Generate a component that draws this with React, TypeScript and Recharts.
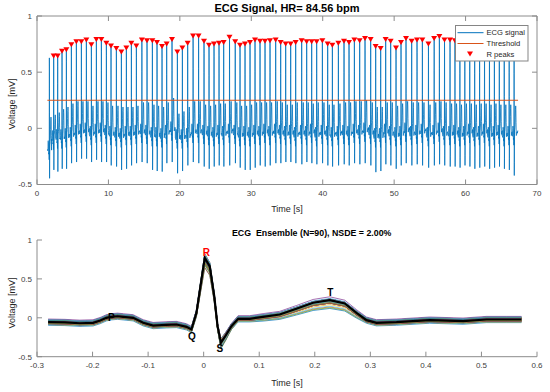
import React from "react";
import { ComposedChart, LineChart, Line, Scatter, XAxis, YAxis, ReferenceDot } from "recharts";

const FONT = '"Liberation Sans", Arial, Helvetica, sans-serif';
const AXIS = "#8c8c8c";
const TICK = "#404040";

// R peak times [s] and heights [mV] (last ones sit under the legend)
const rTimes = [
  1.73, 2.33, 2.89, 3.5, 4.11, 4.81, 5.51, 6.21, 6.91, 7.61, 8.31, 9.01, 9.71, 10.36, 11.11, 11.81,
  12.51, 13.21, 13.91, 14.68, 15.4, 16.15, 16.8, 17.5, 18.15, 18.9, 19.65, 20.35, 21.09, 21.85, 22.62,
  23.38, 24.08, 24.78, 25.48, 26.13, 26.95, 27.75, 28.42, 29.12, 29.82, 30.52, 31.22, 31.92, 32.62,
  33.41, 34.11, 34.81, 35.51, 36.21, 37.05, 37.75, 38.45, 39.15, 39.95, 40.69, 41.35, 42.19, 42.98,
  43.68, 44.43, 45.17, 45.92, 46.71, 47.41, 48.11, 48.81, 49.51, 50.26, 50.96, 51.66, 52.45, 53.2,
  53.95, 54.8, 55.6, 56.33, 57.05, 57.82, 58.51, 59.2, 59.89, 60.58, 61.27, 61.96, 62.65, 63.34,
  64.03, 64.72, 65.41, 66.1, 66.79,
];
const rPeaks = [
  0.627, 0.645, 0.645, 0.686, 0.7, 0.745, 0.77, 0.77, 0.787, 0.745, 0.79, 0.79, 0.757, 0.734, 0.71, 0.68,
  0.716, 0.757, 0.734, 0.787, 0.78, 0.78, 0.763, 0.728, 0.75, 0.79, 0.68, 0.716, 0.757, 0.823, 0.823,
  0.775, 0.74, 0.75, 0.757, 0.763, 0.81, 0.77, 0.74, 0.75, 0.763, 0.787, 0.775, 0.775, 0.78,
  0.787, 0.763, 0.75, 0.75, 0.763, 0.78, 0.77, 0.77, 0.77, 0.78, 0.75, 0.74, 0.757, 0.775,
  0.763, 0.787, 0.78, 0.8, 0.79, 0.728, 0.71, 0.79, 0.775, 0.716, 0.763, 0.8, 0.775, 0.787,
  0.787, 0.75, 0.8, 0.817, 0.787, 0.787, 0.78, 0.77, 0.79, 0.78, 0.77, 0.78, 0.79, 0.78,
  0.77, 0.78, 0.79, 0.78, 0.77,
];
// S troughs, T wave tops and baseline level of each beat [mV]
const sTroughs = [
  -0.445, -0.37, -0.385, -0.36, -0.36, -0.31, -0.3, -0.27, -0.27, -0.3, -0.28, -0.3, -0.3, -0.33, -0.34, -0.37,
  -0.36, -0.33, -0.31, -0.3, -0.31, -0.37, -0.38, -0.385, -0.31, -0.3, -0.4, -0.38, -0.33, -0.3, -0.31,
  -0.34, -0.36, -0.34, -0.33, -0.34, -0.33, -0.31, -0.35, -0.37, -0.37, -0.35, -0.33, -0.34, -0.33,
  -0.31, -0.31, -0.3, -0.3, -0.31, -0.32, -0.3, -0.31, -0.32, -0.31, -0.33, -0.34, -0.33, -0.32,
  -0.33, -0.31, -0.32, -0.31, -0.33, -0.39, -0.38, -0.32, -0.33, -0.36, -0.33, -0.31, -0.33, -0.32,
  -0.33, -0.35, -0.33, -0.32, -0.33, -0.34, -0.34, -0.35, -0.33, -0.34, -0.36, -0.35, -0.34, -0.36,
  -0.35, -0.34, -0.36, -0.37, -0.42,
];
const tPeaks = [
  0.1, 0.12, 0.14, 0.17, 0.19, 0.22, 0.24, 0.24, 0.24, 0.2, 0.24, 0.24, 0.23, 0.2, 0.2, 0.19,
  0.19, 0.19, 0.2, 0.23, 0.23, 0.21, 0.2, 0.19, 0.23, 0.27, 0.13, 0.15, 0.19, 0.24, 0.24,
  0.21, 0.2, 0.21, 0.22, 0.22, 0.24, 0.23, 0.2, 0.2, 0.21, 0.23, 0.23, 0.23, 0.23,
  0.24, 0.23, 0.21, 0.21, 0.23, 0.23, 0.23, 0.22, 0.23, 0.23, 0.21, 0.21, 0.22, 0.23,
  0.23, 0.24, 0.24, 0.25, 0.23, 0.19, 0.19, 0.23, 0.23, 0.2, 0.22, 0.24, 0.23, 0.23,
  0.23, 0.21, 0.23, 0.24, 0.23, 0.22, 0.22, 0.21, 0.22, 0.22, 0.21, 0.22, 0.22, 0.21,
  0.22, 0.21, 0.21, 0.21, 0.2,
];
const baselines = [
  -0.18, -0.09, -0.08, -0.08, -0.07, -0.06, -0.04, -0.03, -0.02, -0.05, -0.03, -0.02, -0.04, -0.05, -0.06, -0.07,
  -0.05, -0.05, -0.04, -0.03, -0.04, -0.06, -0.06, -0.07, -0.04, -0.01, -0.08, -0.08, -0.07, -0.03, -0.03,
  -0.04, -0.05, -0.06, -0.04, -0.05, -0.03, -0.04, -0.06, -0.05, -0.06, -0.04, -0.05, -0.03, -0.05,
  -0.03, -0.04, -0.05, -0.04, -0.06, -0.04, -0.05, -0.03, -0.06, -0.04, -0.05, -0.06, -0.05, -0.04,
  -0.05, -0.03, -0.04, -0.02, -0.04, -0.07, -0.07, -0.03, -0.05, -0.06, -0.05, -0.02, -0.05, -0.04,
  -0.03, -0.06, -0.04, -0.02, -0.05, -0.05, -0.04, -0.06, -0.05, -0.03, -0.06, -0.05, -0.03, -0.06,
  -0.05, -0.04, -0.06, -0.05, -0.05,
];

// ensemble average beat (black curve of the lower panel)
const beatTime = [
  -0.28, -0.25, -0.223, -0.199, -0.186, -0.175, -0.166, -0.155, -0.145, -0.127, -0.109, -0.091, -0.067,
  -0.049, -0.031, -0.022, -0.013, -0.004, 0.002, 0.011, 0.019, 0.025, 0.031, 0.039, 0.05, 0.062, 0.083,
  0.107, 0.137, 0.167, 0.197, 0.227, 0.254, 0.275, 0.293, 0.311, 0.347, 0.407, 0.467, 0.509, 0.545, 0.572,
];
const beatMean = [
  -0.056, -0.06, -0.07, -0.065, -0.035, 0.0, 0.013, 0.02, 0.013, 0.0, -0.064, -0.1, -0.09,
  -0.086, -0.116, -0.15, 0.064, 0.49, 0.77, 0.66, 0.28, -0.108, -0.32, -0.236, -0.108, -0.013, -0.013,
  0.013, 0.042, 0.116, 0.193, 0.227, 0.184, 0.064, -0.03, -0.064, -0.056, -0.03, -0.043, -0.022, -0.022, -0.022,
];
// which wave each template point belongs to: b baseline, r R wave, s S wave, t T wave
const beatPart = [
  "b", "b", "b", "b", "b", "b", "b", "b", "b", "b", "b", "b", "b",
  "b", "b", "b", "r", "r", "r", "r", "r", "s", "s", "s", "s", "b", "b",
  "t", "t", "t", "t", "t", "t", "t", "b", "b", "b", "b", "b", "b", "b", "b",
];

const thresholdTimes = [1.45, 67.35];
const thresholdLevel = 0.25;

const waveNames = ["P", "Q", "R", "S", "T"];
const waveTimes = [-0.166, -0.021, 0.005, 0.029, 0.228];
const waveVolts = [0.0, -0.237, 0.835, -0.4, 0.32];

const signalTicks = [0, 10, 20, 30, 40, 50, 60, 70];
const voltTicks = [-0.5, 0, 0.5, 1];
const lagTicks = [-0.3, -0.2, -0.1, 0, 0.1, 0.2, 0.3, 0.4, 0.5, 0.6];

const matlabColors = ["#0072BD", "#D95319", "#EDB120", "#7E2F8E", "#77AC30", "#4DBEEE", "#A2142F"];

const MEAN_BASE = -0.05;
const MEAN_R = 0.77;
const MEAN_S = -0.32;
const MEAN_T = 0.227;

function beatValues(i: number) {
  const b = baselines[i];
  const gain: Record<string, number> = {
    b: 1,
    r: (rPeaks[i] - b) / (MEAN_R - MEAN_BASE),
    s: (sTroughs[i] - b) / (MEAN_S - MEAN_BASE),
    t: (tPeaks[i] - b) / (MEAN_T - MEAN_BASE),
  };
  return beatMean.map((m, k) => b + (m - MEAN_BASE) * gain[beatPart[k]]);
}

const signal: { t: number; v: number }[] = [];
rTimes.forEach((r, i) => {
  const vals = beatValues(i);
  const next = rTimes[i + 1];
  beatTime.forEach((bt, k) => {
    if (next !== undefined && r + bt >= next + beatTime[0]) return;
    signal.push({ t: r + bt, v: vals[k] });
  });
});

const thresholdData = thresholdTimes.map((t) => ({ t, v: thresholdLevel }));
const peakData = rTimes.slice(1).map((t, j) => ({ t, v: rPeaks[j + 1] }));

const ensemble = rTimes.slice(1, 91).map((_, j) => {
  const vals = beatValues(j + 1);
  return beatTime.map((t, k) => ({ t, v: vals[k] }));
});
const ensembleMean = beatTime.map((t, k) => ({ t, v: beatMean[k] }));

const tickStyle = { fontSize: 8, fill: TICK, fontFamily: FONT };
const noLabel = () => <g />;

function DownTriangle(props: any) {
  const { cx, cy } = props;
  if (cx == null || cy == null) return null;
  return <polygon points={`${cx - 3},${cy - 2.5} ${cx + 3},${cy - 2.5} ${cx},${cy + 2.5}`} fill="#ff0000" />;
}

export default function App() {
  return (
    <div style={{ position: "absolute", left: 0, top: 0, width: 550, height: 392, background: "#fff", overflow: "hidden" }}>
      <div style={{ position: "absolute", left: 0, top: 0 }}>
        <ComposedChart width={550} height={215} margin={{ top: 15, right: 12, bottom: 0, left: 0 }}>
          <XAxis
            type="number"
            dataKey="t"
            domain={[0, 70]}
            ticks={signalTicks}
            interval={0}
            allowDataOverflow
            height={30.5}
            tickSize={-5}
            tickMargin={11}
            stroke={AXIS}
            tick={tickStyle}
          />
          <XAxis
            xAxisId="top"
            orientation="top"
            type="number"
            dataKey="t"
            domain={[0, 70]}
            ticks={signalTicks}
            interval={0}
            allowDataOverflow
            height={1}
            tickSize={-5}
            stroke={AXIS}
            tick={noLabel}
          />
          <YAxis
            type="number"
            dataKey="v"
            domain={[-0.5, 1]}
            ticks={voltTicks}
            interval={0}
            allowDataOverflow
            width={37}
            tickSize={-5}
            tickMargin={10}
            stroke={AXIS}
            tick={tickStyle}
          />
          <YAxis
            yAxisId="right"
            orientation="right"
            type="number"
            dataKey="v"
            domain={[-0.5, 1]}
            ticks={voltTicks}
            interval={0}
            allowDataOverflow
            width={1}
            tickSize={-5}
            stroke={AXIS}
            tick={noLabel}
          />
          <Line
            data={signal}
            dataKey="v"
            stroke="#0072BD"
            strokeWidth={0.8}
            dot={false}
            isAnimationActive={false}
          />
          <Line
            xAxisId="top"
            yAxisId="right"
            data={thresholdData}
            dataKey="v"
            stroke="#D95319"
            strokeWidth={1}
            dot={false}
            isAnimationActive={false}
          />
          <Scatter data={peakData} dataKey="v" shape={<DownTriangle />} isAnimationActive={false} />
        </ComposedChart>
      </div>

      <div style={{ position: "absolute", left: 0, top: 215 }}>
        <LineChart width={550} height={177} margin={{ top: 25, right: 13, bottom: 0, left: 0 }}>
          <XAxis
            type="number"
            dataKey="t"
            domain={[-0.3, 0.6]}
            ticks={lagTicks}
            interval={0}
            allowDataOverflow
            height={35.3}
            tickSize={-5}
            tickMargin={11}
            stroke={AXIS}
            tick={tickStyle}
          />
          <YAxis
            type="number"
            dataKey="v"
            domain={[-0.5, 1]}
            ticks={voltTicks}
            interval={0}
            allowDataOverflow
            width={37}
            tickSize={-5}
            tickMargin={10}
            stroke={AXIS}
            tick={tickStyle}
          />
          {ensemble.map((d, j) => (
            <Line
              key={j}
              data={d}
              dataKey="v"
              stroke={matlabColors[j % matlabColors.length]}
              strokeWidth={0.7}
              dot={false}
              isAnimationActive={false}
            />
          ))}
          <Line data={ensembleMean} dataKey="v" stroke="#000" strokeWidth={2.2} dot={false} isAnimationActive={false} />
          {waveNames.map((name, i) => (
            <ReferenceDot
              key={name}
              x={waveTimes[i]}
              y={waveVolts[i]}
              r={0}
              fill="none"
              stroke="none"
              label={{
                value: name,
                position: "center",
                fill: name === "R" ? "#ff0000" : "#000",
                fontSize: 10,
                fontWeight: "bold",
                fontFamily: FONT,
              }}
            />
          ))}
        </LineChart>
      </div>

      <svg
        width={550}
        height={392}
        style={{ position: "absolute", left: 0, top: 0, pointerEvents: "none" }}
        fontFamily={FONT}
      >
        <text x={287} y={12} textAnchor="middle" fontSize={11} fontWeight="bold" fill="#000">
          ECG Signal, HR= 84.56 bpm
        </text>
        <text x={287} y={212} textAnchor="middle" fontSize={9} fill="#262626">
          Time [s]
        </text>
        <text x={12} y={104} transform="rotate(-90 12 104)" textAnchor="middle" dy="0.35em" fontSize={9} fill="#262626">
          Voltage [mV]
        </text>

        <text x={232} y={236} fontSize={8.8} fontWeight="bold" fill="#000" xmlSpace="preserve">
          ECG  Ensemble (N=90), NSDE = 2.00%
        </text>
        <text x={287} y={385.5} textAnchor="middle" fontSize={9} fill="#262626">
          Time [s]
        </text>
        <text x={12} y={303} transform="rotate(-90 12 303)" textAnchor="middle" dy="0.35em" fontSize={9} fill="#262626">
          Voltage [mV]
        </text>

        <rect x={455.5} y={25.5} width={72.5} height={35.5} fill="#fff" stroke="#858585" strokeWidth={1} />
        <line x1={457.5} x2={483.5} y1={32.7} y2={32.7} stroke="#0072BD" strokeWidth={1} />
        <text x={486.5} y={35.4} fontSize={7.6} fill="#262626">ECG signal</text>
        <line x1={457.5} x2={483.5} y1={43.5} y2={43.5} stroke="#D95319" strokeWidth={1} />
        <text x={486.5} y={46.2} fontSize={7.6} fill="#262626">Threshold</text>
        <polygon points="467,51.5 473,51.5 470,56.5" fill="#ff0000" />
        <text x={486.5} y={56.9} fontSize={7.6} fill="#262626">R peaks</text>
      </svg>
    </div>
  );
}
